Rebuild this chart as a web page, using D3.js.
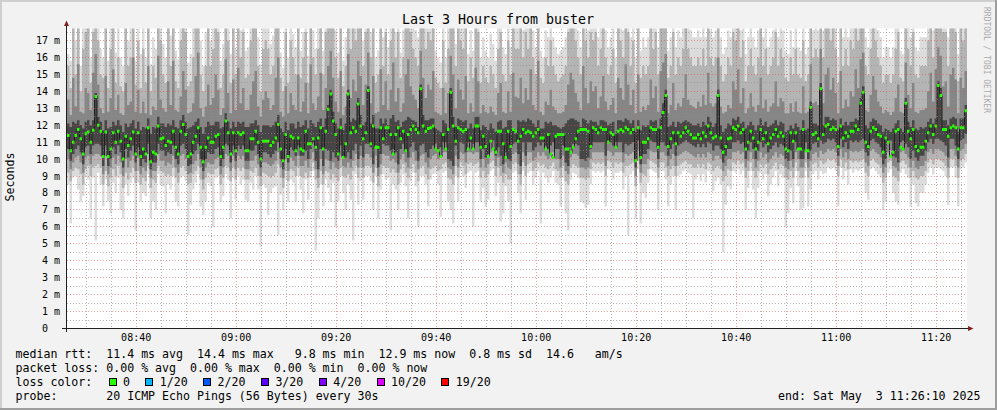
<!DOCTYPE html>
<html><head><meta charset="utf-8">
<script src="https://cdn.jsdelivr.net/npm/d3@7"></script>
<style>
html,body{margin:0;padding:0;background:#f2f2f2;}
svg{display:block;}
text{font-family:"DejaVu Sans Mono",monospace;white-space:pre;}
</style></head><body>
<svg id="c" width="997" height="410"></svg>
<script>
// ---- data (ms), one value per 30 s step, 08:26:10 .. 11:26:10 ----
const median = [
11.4,10.5,11.0,11.4,11.75,11.2,10.3,11.5,11.6,11.0,11.7,13.7,12.0,11.65,10.15,11.6,10.15,10.6,11.55,11.0,11.65,11.05,10.0,11.35,10.8,11.2,11.6,10.3,11.55,10.15,10.6,10.3,11.85,9.85,10.4,10.3,11.95,11.2,11.25,10.8,11.05,11.0,11.65,10.7,10.3,11.65,12.05,11.45,10.15,10.3,11.0,11.35,11.85,10.7,9.85,10.7,11.25,11.0,11.0,11.35,11.45,10.15,10.7,12.25,11.55,10.3,11.55,10.5,11.55,11.45,11.55,10.5,
10.5,11.2,11.2,11.65,11.0,10.0,11.05,11.05,11.05,10.8,11.0,11.25,12.05,10.6,9.9,11.45,10.15,11.35,11.25,10.5,11.25,10.6,10.5,11.65,10.9,10.9,11.2,10.7,11.25,11.85,10.6,11.65,12.95,13.85,12.25,11.45,10.3,11.85,10.1,10.9,13.85,11.55,11.85,11.65,13.25,11.95,11.2,11.55,14.05,10.9,11.95,10.7,10.7,11.85,11.2,11.85,11.85,11.45,10.3,11.45,11.85,11.2,11.65,10.5,11.45,11.75,11.95,11.75,11.55,14.15,11.95,11.65,
11.8,11.85,11.95,10.6,10.5,10.15,11.45,10.6,11.75,13.95,11.95,11.05,11.85,11.75,11.65,11.75,10.6,11.25,10.6,11.95,11.95,10.7,11.35,10.75,10.15,11.05,10.6,10.4,11.65,11.65,10.9,10.1,11.65,10.75,11.75,11.65,11.05,11.35,11.75,11.55,11.65,11.55,11.35,11.55,11.75,11.25,11.25,10.6,11.45,10.3,10.1,11.35,11.45,11.45,11.45,10.6,10.6,10.4,10.7,11.2,11.65,11.75,11.75,11.75,11.65,10.75,11.85,11.75,11.55,11.85,11.75,11.75,
11.0,11.55,11.45,10.7,11.65,11.75,11.65,11.85,11.75,11.55,11.75,9.9,11.85,10.1,11.0,11.0,11.2,11.85,11.75,11.75,10.7,11.85,12.75,13.75,10.75,11.2,11.55,10.9,11.55,11.35,11.55,11.85,11.65,11.45,11.25,11.25,11.45,11.2,11.55,11.35,11.95,11.55,11.25,11.35,13.75,11.25,10.4,10.75,11.2,11.25,11.85,11.75,11.95,11.55,11.75,10.6,11.0,11.65,11.25,10.6,11.0,11.75,11.2,11.55,10.9,11.25,11.45,11.75,11.35,11.55,11.35,10.6,
10.5,11.55,11.05,11.55,10.6,10.6,11.75,10.5,10.5,13.05,11.45,11.55,11.2,14.15,11.45,11.95,12.05,11.75,11.85,11.75,10.75,11.95,11.25,11.55,11.35,11.65,11.65,11.95,11.75,13.3,13.95,11.0,10.75,11.65,11.85,11.75,11.45,11.35,10.4,11.25,11.0,10.15,10.4,11.65,11.75,10.7,10.6,13.3,11.65,11.2,11.75,10.75,10.5,10.7,10.7,11.05,11.55,11.95,11.45,11.95,14.35,13.75,11.75,11.75,11.35,11.85,11.95,11.85,10.6,11.85,11.85,12.85];

// smoke: sorted pings of each step, as pairs of ranks (lowest/highest, 4th/17th, 7th/14th, 9th/12th)
const pingMax = [
16.2,15.8,18,17,18,15.5,18,18,18,16,18,18,18,16.5,16,18,15.8,18,18,16.3,18,16,15.5,18,17,18,18,15.8,18,16.2,
18,16,18,15.6,17.2,16.5,18,18,16.8,16,18,17.3,18,16.4,15.9,18,18,18,15.7,16.2,18,18,18,17,15.5,17.5,18,17,18,18,
18,15.8,16.8,18,18,16.2,18,16.5,18,17.6,18,16.4,16.6,18,18,18,17.2,15.6,18,18,18,16.8,17.3,18,18,16.3,15.4,18,16,18,
17.4,16.6,18,16.4,17.5,18,16.1,18,17.6,16.5,18,18,16.4,18,18,18,18,17.6,16.3,18,15.8,17.2,18,18,18,18,18,18,17,18,
18,17.5,18,16,16.4,18,17.2,18,16.6,18,18,17.5,18,16.3,17.6,18,18,18,18,17.6,17.2,18,18,18,18,18,18,16.4,16,15.7,
18,16,18,18,18,16.8,18,18,18,18,16.2,17.6,16.4,18,18,16,17.2,16.4,16,17.4,16.8,15.8,18,18,16.6,16.2,18,16.6,18,18,
18,18,17.6,18,18,18,17.6,16.6,18,16.4,16,17.6,17.2,18,17.2,16.6,16.2,16.4,16.6,17.2,18,18,18,18,17.6,16.6,18,18,17.6,18,
18,18,17.2,18,18,17.6,16.6,17.2,18,16,18,18,17.6,18,18,17.2,18,16,18,16.4,17.2,16.6,17.2,18,18,18,16.6,18,18,18,
16.4,17.2,18,16.6,17.6,17.2,18,18,18,17.6,17.2,17.2,17.6,17.2,18,17.2,18,17.6,17.2,17.6,18,17.2,16.2,16.6,17.6,17.2,18,18,18,17.6,
18,16.2,17.2,18,17.2,16.6,17.6,18,17.2,18,16.6,17.2,17.6,18,17.2,18,17.6,16.4,16.2,17.6,16.6,18,16.6,16.4,18,16.2,16.6,18,17.6,18,
17.6,18,17.6,18,18,18,18,18,16,18,17.2,18,17.2,18,18,18,18,18,18,17.2,16.6,18,18,18,17.6,17.2,16,16.6,16.6,16,
16.6,18,18,16.4,16.2,18,18,17.2,18,16.6,16.4,17.2,17.2,17.2,18,18,17.6,18,18,18,18,18,17.2,18,18,18,16.2,18,18,18];
const ping17 = [
15.5,14.2,18,15,18.5,14,16.5,17.5,18,14.5,17.5,18.5,17,15,14.8,18,14.2,16.5,18.5,14.5,16,14.3,14,18,15.5,16,18.5,14.4,17,14.2,
16.5,14.5,18.5,14,15.5,14.8,18.5,17,15,14.5,18,15.5,18.5,14.6,14.2,17,18.5,17.5,14.3,14.6,16,18,18.5,15,14,15.5,18,15.5,16.5,18,
17.5,14.2,15,18.5,17,14.5,18,15,18.5,16,17.5,14.8,15,17,18,18.5,15.5,14,16.5,17,16.5,15,15.5,18,18.5,14.8,14,17.5,14.5,17,
16,15,18,14.8,16,17.5,14.5,18.5,16,15,16.5,18,15,17.5,18.5,18.5,18,16,14.8,18.5,14.3,15.5,18.5,16.5,18,17,18.5,18,15.5,17.5,
18.5,16,18,14.5,15,18.5,15.5,17.5,15,17,18.5,16,17.5,14.8,16,18,18.5,17.5,16.5,16,15.5,18.5,18,16.5,17.5,17,18.5,14.8,14.5,14.2,
17,14.5,16.5,18.5,18,15.5,18,17,16.5,18,14.6,16,14.8,18.5,17.5,14.5,15.5,14.8,14.5,15.5,15,14.2,16.5,17.5,15,14.6,17,15,18,16.5,
16.5,18,16,17.5,16.5,18.5,16,15,18.5,14.8,14.5,16,15.5,17,15.5,15,14.6,14.8,15,15.5,17.5,18,18,17,16,15,18.5,17,16,17.5,
17,17.5,15.5,16.5,18,16,15,15.5,16.5,14.5,18,17,16,18.5,17.5,15.5,17,14.5,18,14.8,15.5,15,15.5,18,16.5,17.5,15,18,18.5,18.5,
14.8,15.5,17.5,15,16,15.5,16.5,18,16.5,16,15.5,15.5,16,15.5,16.5,15.5,18,16,15.5,16,18.5,15.5,14.6,15,16,15.5,17.5,17,18.5,16,
17,14.6,15.5,16.5,15.5,15,16,18,15.5,16.5,15,15.5,16,17.5,15.5,16.5,16,14.8,14.6,16,15,16.5,15,14.8,17,14.6,15,18.5,16,16.5,
16,18.5,16,18,18.5,17,18,16.5,14.5,18.5,15.5,16.5,15.5,17,16.5,18.5,17,18.5,18.5,15.5,15,16.5,18,17,16,15.5,14.5,15,15,14.5,
15,16.5,17.5,14.8,14.6,18.5,16.5,15.5,17.5,15,14.8,15.5,15.5,15.5,17,18,16,18.5,18.5,18.5,17.5,17.5,15.5,18,18.5,17.5,14.6,18,17,18];
const ping14 = [
13.5,12.6,14.8,13.1,15.6,12.8,12.7,14.2,13.9,12.9,15.1,16.2,14.4,13,12.7,14.9,12.8,13.6,15.3,12.9,13.8,12.7,12.6,14.5,13.2,13.4,16,12.8,14.1,12.7,
13.4,12.7,15.5,12.6,13.1,12.9,16.1,13.5,13,12.8,14.6,13.2,15.8,12.9,12.8,13.7,15.2,14.1,12.7,12.8,13.3,14.9,16.3,13,12.5,13.1,14.4,13.2,13.6,15,
14.1,12.6,13,15.9,13.9,12.7,14.7,12.9,15.4,13.3,14.2,12.9,12.9,13.8,14.6,15.2,13.1,12.5,13.5,14,13.6,12.9,13.2,14.8,16,12.8,12.5,14.3,12.7,13.9,
13.2,12.9,15,12.8,13.4,14.5,12.7,15.6,13.3,12.9,13.7,15.1,12.9,14.2,15.5,16.4,14.8,13.4,12.8,15.2,12.6,13.1,16.2,13.6,14.7,14,15.8,14.9,13.2,14.4,
16.3,13.3,14.9,12.7,12.8,15.3,13.2,14.6,12.9,14.1,15.7,13.4,14.2,12.8,13.3,15,15.9,14.3,13.8,13.5,13,16.4,14.8,13.6,14.4,14.1,15.2,12.8,12.7,12.6,
14.2,12.7,13.9,16.1,15,13,14.7,14.1,13.5,14.9,12.7,13.3,12.8,15.4,14.6,12.7,13.2,12.8,12.7,13.1,12.8,12.6,13.9,14.5,12.8,12.7,14,12.8,15.1,13.7,
13.6,14.8,13.3,14.2,13.5,15.3,13.2,12.9,15.8,12.8,12.6,13.4,13.2,14.1,13.1,12.9,12.7,12.7,12.8,13.2,14.4,15.1,14.7,13.9,13.4,12.9,15.5,14.2,13.3,14.6,
14,14.3,13,13.7,14.9,13.4,12.9,13.2,13.6,12.7,14.8,14.2,13.5,15.6,14.4,13.2,14.1,12.7,15,12.8,13.1,12.9,13.2,14.7,13.6,14.3,12.8,15.2,15.7,16.2,
12.7,13.2,14.5,12.9,13.3,13.1,13.6,15,13.5,13.2,13.1,13,13.4,13.1,13.8,13.2,15.1,13.3,13.1,13.3,16,13.1,12.7,12.8,13.2,13,14.6,14.1,15.3,13.3,
14.2,12.7,13,13.9,13.1,12.8,13.2,14.8,13,13.5,12.8,13.1,13.3,14.6,13.1,13.6,13.4,12.7,12.7,13.3,12.8,13.4,12.8,12.7,14.3,12.7,12.8,15.6,13.3,13.4,
13.2,16.5,13.3,15,15.4,14.1,14.8,13.9,12.7,15.2,13,13.5,13.1,14,13.7,15.3,14.2,15.9,16.3,12.9,12.8,13.8,14.9,14.1,13.4,13.1,12.7,12.9,12.8,12.6,
12.8,13.6,14.4,12.8,12.7,15.7,13.8,13,14.5,12.8,12.7,12.9,12.9,13,14,15.1,13.4,15.3,16.6,16.1,14.3,14.6,13.1,15,15.4,14.7,12.7,14.8,14.2,15.2];
const ping12 = [
12.1,11.9,12.2,12.1,12.3,12,11.8,12.2,12.3,12,12.3,13.9,12.5,12.2,11.7,12.3,11.8,11.9,12.2,12,12.3,12,11.6,12.1,11.9,12.1,12.3,11.8,12.2,11.7,
11.9,11.8,12.4,11.5,11.9,11.8,12.5,12.1,12.1,11.9,12.1,12,12.3,11.9,11.8,12.3,12.6,12.2,11.8,11.9,12,12.2,12.4,11.9,11.5,11.9,12.2,12,12,12.2,
12.2,11.8,11.9,12.7,12.2,11.8,12.2,11.9,12.2,12.1,12.2,11.9,11.9,12.1,12.1,12.3,12,11.6,12,12,12,11.9,12,12.2,12.6,11.8,11.6,12.2,11.7,12.1,
12.1,11.8,12.2,11.9,12,12.3,11.8,12.3,12.1,11.9,12.2,12.4,11.9,12.4,13.2,14.1,12.8,12.1,11.8,12.4,11.7,12.1,14.1,12.2,12.4,12.3,13.6,12.6,12,12.2,
14.3,12.1,12.6,11.8,11.8,12.4,12.1,12.4,12,12.4,12.6,12.2,12.3,11.9,12.2,12.3,12.5,12.4,12.3,12.2,11.9,14.4,12.6,12.3,12.3,12.4,12.4,11.8,11.7,11.6,
12.3,12.1,11.8,14.2,12.5,11.9,12.4,12.3,12.2,12.3,11.8,12.1,11.8,12.5,12.5,11.7,12,11.9,11.7,12.1,11.8,11.6,12.2,12.3,11.8,11.9,12.3,12.3,11.7,11.5,
12.3,12.2,12.3,12.2,12.4,12.3,12.1,11.9,12.3,11.8,11.8,12.2,12.1,12.2,12,12,11.9,11.8,11.9,12.1,12.3,12.4,12.4,12.3,12.2,11.9,12.4,12.3,12.1,12.3,
12.2,12.2,12,12.3,12.3,12.2,12,12.1,12.2,11.5,12.3,12.3,12.2,12.4,12.3,12.1,12.3,11.6,12.3,11.7,12,11.9,12,12.3,12.2,12.3,11.8,12.4,13.3,14.1,
11.9,12,12.2,11.9,12.2,12.1,12.2,12.3,12.2,12.1,12,12,12.1,11.9,12.2,12,12.5,12.2,11.9,12.1,14.1,12,11.6,11.8,12.1,12,12.4,12.3,12.5,12.1,
12.2,11.8,12,12.2,12,11.7,12,12.4,12,12.2,11.9,12,12.1,12.3,12,12.2,12.1,11.6,11.7,12,11.8,12.1,11.9,11.7,12.3,11.7,11.8,13.4,12.1,12.1,
12,14.5,12,12.5,12.5,12.3,12.4,12.3,11.7,12.4,12,12.2,12,12.2,12.2,12.4,12.3,13.6,14.3,12,11.8,12.2,12.4,12.3,12.1,12,11.6,11.8,11.7,11.6,
11.8,12.1,12.3,11.8,11.6,13.6,12.2,11.9,12.3,11.8,11.7,11.9,11.8,11.9,12.2,12.4,12.1,12.4,14.6,14.2,12.3,12.3,12,12.4,12.5,12.4,11.6,12.4,12.4,13.2];
const ping9 = [
10.6,9.9,10.3,10.6,10.8,10.4,9.7,10.7,10.8,10.3,10.8,10.9,10.9,10.8,9.6,10.8,9.6,10,10.7,10.3,10.8,10.4,9.5,10.6,10.1,10.5,10.8,9.8,10.7,9.6,
10,9.8,10.9,9.4,9.8,9.8,10.9,10.5,10.5,10.2,10.4,10.3,10.8,10,9.7,10.8,10.9,10.6,9.6,9.7,10.3,10.5,10.9,10,9.3,10,10.4,10.3,10.3,10.6,
10.7,9.6,10,10.9,10.8,9.8,10.8,9.9,10.8,10.6,10.8,9.9,9.9,10.5,10.5,10.8,10.3,9.5,10.4,10.4,10.3,10.1,10.3,10.5,11,10,9.4,10.6,9.8,10.7,
10.5,10.2,10.8,10.2,10.2,10.5,10,10.6,11,9.9,9.4,10.6,9.6,10.6,10.5,9.9,10.4,10.1,9.9,10.8,10.2,10.1,10.4,10,10.5,10.9,10,10.8,10.1,10.9,
10.9,10.7,9.7,10.8,9.5,10.3,10.9,10.8,10.8,10.5,10.6,10.4,9.7,10.6,10.9,10.4,10.1,10.7,11,10.5,9.9,10.8,10.9,10.4,10.1,10.6,10.8,10.9,10.6,10.7,
11,11,10,9.9,9.6,10.8,10,11,10.9,10.4,11,11,10.9,11,11,10,10.6,10.1,10.3,11,11.1,10.2,10.7,10.2,9.7,10.4,10,9.9,10.9,11,
10.3,9.6,11,10.2,11,11,10.5,10.7,11,10.8,11,10.8,10.6,10.8,11,10.6,10.6,10,10.8,9.8,9.6,10.7,10.9,10.9,10.8,10,10,9.9,10.1,10.6,
11,11,11,11,11,10.2,11.1,11,10.8,11,11,11,10.4,10.9,10.8,10.9,11,9.5,11.1,9.7,10.3,10.3,10.6,11.1,11,11,10,11,11,10.8,
10.2,10.6,10.9,10.2,10.8,10.9,11,11.1,11,10.9,10.8,10.7,10.9,10.7,10.9,10.7,11,10.9,10.5,10.8,10.8,10.6,9.8,10.2,10.6,10.6,11,11,11.1,10.9,
11,10,10.5,11,10.6,10,10.5,11,10.7,10.9,10.4,10.6,10.8,11,10.7,10.9,10.8,10,9.9,10.5,10,11,10.6,10,10,11,10,10.5,10.9,11,
10.7,11.1,10.9,11,11.2,11.1,11.2,11,10.2,11.2,10.7,11,10.6,11.1,11,11.1,11,11.1,11.2,10.4,10.2,11.1,11.2,11,10.9,10.7,9.7,10,11,11.1,
10.2,10.1,9.8,11,11.1,10.9,10.7,10,10.5,10.1,9.9,10.2,10.2,10.5,11,11.2,10.9,11.2,11.2,11.1,11,10.8,10.1,11.2,11.2,10.8,10,11.1,11.2,11.5];
const ping7 = [
10,9.4,9.8,10.1,10.2,9.8,9.2,10.1,10.2,9.7,10.2,10.3,10.3,10.2,9.1,10.2,9.1,9.5,10.1,9.7,10.2,9.8,9,10,9.5,9.9,10.2,9.3,10.1,9.1,
9.5,9.3,10.3,8.9,9.3,9.3,10.3,9.9,9.9,9.6,9.8,9.7,10.2,9.5,9.2,10.2,10.3,10,9.1,9.2,9.7,9.9,10.3,9.5,8.8,9.5,9.8,9.7,9.7,10,
10.1,9.1,9.5,10.3,10.2,9.3,10.2,9.4,10.2,10,10.2,9.4,9.4,9.9,9.9,10.2,9.7,9,9.8,9.8,9.7,9.6,9.7,9.9,10.4,9.5,8.9,10,9.3,10.1,
9.9,9.6,10.2,9.6,9.6,9.9,9.5,10,10.4,9.4,8.9,10,9.1,10,9.9,9.4,9.8,9.5,9.4,10.2,9.6,9.5,9.8,9.5,9.9,10.3,9.5,10.2,9.5,10.3,
10.3,10.1,9.2,10.2,9,9.7,10.3,10.2,10.2,9.9,10,9.8,9.2,10,10.3,9.8,9.5,10.1,10.4,9.9,9.4,10.2,10.3,9.8,9.5,10,10.2,10.3,10,10.1,
10.4,10.4,9.5,9.4,9.1,10.2,9.5,10.4,10.3,9.8,10.4,10.4,10.3,10.4,10.4,9.5,10,9.5,9.7,10.4,10.5,9.6,10.1,9.6,9.2,9.8,9.5,9.4,10.3,10.4,
9.7,9.1,10.4,9.6,10.4,10.4,9.9,10.1,10.4,10.2,10.4,10.2,10,10.2,10.4,10,10,9.5,10.2,9.3,9.1,10.1,10.3,10.3,10.2,9.5,9.5,9.4,9.5,10,
10.4,10.4,10.4,10.4,10.4,9.6,10.5,10.4,10.2,10.4,10.4,10.4,9.8,10.3,10.2,10.3,10.4,9,10.5,9.2,9.7,9.7,10,10.5,10.4,10.4,9.5,10.4,10.4,10.2,
9.6,10,10.3,9.6,10.2,10.3,10.4,10.5,10.4,10.3,10.2,10.1,10.3,10.1,10.3,10.1,10.4,10.3,9.9,10.2,10.2,10,9.3,9.6,10,10,10.4,10.4,10.5,10.3,
10.4,9.5,9.9,10.4,10,9.5,9.9,10.4,10.1,10.3,9.8,10,10.2,10.4,10.1,10.3,10.2,9.5,9.4,9.9,9.5,10.4,10,9.5,9.5,10.4,9.5,9.9,10.3,10.4,
10.1,10.5,10.3,10.4,10.6,10.5,10.6,10.4,9.6,10.6,10.1,10.4,10,10.5,10.4,10.5,10.4,10.5,10.6,9.8,9.6,10.5,10.6,10.4,10.3,10.1,9.2,9.5,10.4,10.5,
9.6,9.5,9.3,10.4,10.5,10.3,10.1,9.5,9.9,9.5,9.4,9.6,9.6,9.9,10.4,10.6,10.3,10.6,10.6,10.5,10.4,10.2,9.5,10.6,10.6,10.2,9.5,10.5,10.6,10.9];
const ping4 = [
9.2,8.7,9.3,9.5,9.4,9.1,8.5,9.4,9.6,9,9.5,9.6,9.7,9.5,8.5,9.3,8.4,8.9,9.4,9,9.6,9.1,8.3,9.2,8.8,9.2,9.5,8.6,9.3,8.5,
8.9,8.7,9.6,8.3,8.8,8.6,9.6,9.3,9.2,9,9.1,9,9.5,8.9,8.6,9.5,9.6,9.3,8.5,8.6,9.1,9.3,9.6,8.8,8.2,8.9,9.2,9.1,9.1,9.4,
9.5,8.5,8.9,9.6,9.5,8.7,9.5,8.8,9.5,9.3,9.5,8.8,8.8,9.3,9.2,9.5,9,8.4,9.2,9.1,9,8.9,9,9.2,9.7,8.9,8.3,9.3,8.7,9.4,
9.3,9,9.5,9,8.9,9.2,8.9,9.3,9.8,8.8,8.3,9.3,8.5,9.3,9.2,8.8,9.1,8.9,8.7,9.5,9,8.9,9.1,8.8,9.3,9.6,8.9,9.5,8.9,9.6,
9.6,9.5,8.6,9.5,8.4,9.1,9.6,9.5,9.5,9.2,9.4,9.2,8.5,9.4,9.7,9.2,8.9,9.4,9.7,9.2,8.7,9.5,9.6,9.1,8.8,9.4,9.5,9.6,9.3,9.4,
9.7,9.8,8.9,8.8,8.5,9.6,8.9,9.8,9.6,9.1,9.7,9.8,9.6,9.7,9.8,8.9,9.3,8.9,9.1,9.8,9.9,9,9.5,9,8.6,9.1,8.8,8.8,9.7,9.8,
9.1,8.5,9.8,9,9.7,9.8,9.3,9.5,9.8,9.6,9.7,9.5,9.4,9.6,9.8,9.4,9.3,8.9,9.6,8.7,8.5,9.5,9.7,9.6,9.5,8.9,8.9,8.8,8.9,9.4,
9.8,9.7,9.8,9.7,9.8,9,9.9,9.8,9.5,9.8,9.7,9.8,9.2,9.6,9.6,9.7,9.8,8.4,9.9,8.6,9.1,9,9.4,9.9,9.8,9.7,8.9,9.8,9.8,9.5,
9,9.4,9.6,9,9.6,9.7,9.8,9.9,9.7,9.7,9.5,9.5,9.7,9.5,9.7,9.4,9.8,9.7,9.3,9.5,9.6,9.4,8.7,9,9.4,9.3,9.8,9.7,9.9,9.7,
9.8,8.9,9.3,9.8,9.3,8.9,9.3,9.7,9.5,9.7,9.1,9.4,9.6,9.8,9.4,9.7,9.6,8.9,8.8,9.3,8.9,9.8,9.3,8.9,8.9,9.8,8.9,9.3,9.7,9.8,
9.5,9.9,9.7,9.8,10,9.9,10,9.8,9,10,9.5,9.8,9.4,9.9,9.8,9.9,9.8,9.9,10,9.2,9,9.9,10,9.8,9.7,9.5,8.6,8.9,9.8,9.9,
9,8.9,8.7,9.8,9.9,9.7,9.5,8.9,9.3,8.9,8.8,9,9,9.3,9.8,10,9.7,10,10,9.9,9.8,9.6,8.9,10,10,9.6,8.9,9.9,10,10.3];
const pingMin = [
8.5,6.2,8.9,9,8.2,7.5,7.8,9,8.8,6.5,8.9,5.2,9.2,8.5,7.2,8.8,7.5,6.8,8.6,8,8.9,7,6.5,8.5,7.8,8.6,8.9,5.8,8.6,7.5,
8,7.8,9.1,6.5,7.5,7,9.1,8.5,8.4,6.8,8.5,8.2,9,7.5,7.2,8.9,9,8.7,5.5,7.3,8.2,8.6,9.1,7.2,6.7,7.5,8.6,8.4,6,8.9,
9,7.5,7.8,9.1,8.8,6.5,8.9,7.6,9,8.5,8.8,7.6,7.5,8.6,8.2,9,8.2,4.8,8.5,8.3,6.7,8,8.3,8.4,5.5,7.9,7,8.8,7.5,8.8,
8.6,7.5,9,8.2,6.8,8.8,7.6,8.9,9.3,4.6,6.5,8.5,7.2,8.8,8.3,7.5,8.6,6,7.5,9,8,7,8.5,7.6,5.2,9.1,7.3,8.7,7.6,9,
9,8.7,7,9,6.5,8.2,9.1,8.8,8.9,5.8,8.5,8.2,7,8.6,9.1,8.4,6.5,8.7,9.2,8.4,6,9,9,8.5,7.2,8.8,9.1,9.2,8.5,6.6,
9.2,9.3,7.5,7,6.2,9,7.5,9.3,9,8.3,9.2,9.3,6,9.2,9.3,7.5,8.3,7.2,7.6,9.3,9.4,7.8,8.6,6.3,6.8,8.4,7.5,5,9.2,9.3,
8,6.8,9.3,7.6,9.2,9.3,8.5,8.9,9.3,6.2,9.2,8.9,8.6,8.9,9.3,8.6,8.5,7.2,8.9,6.8,5.8,8.8,9.2,9.1,8.9,7.5,7.4,7.1,7.3,8.5,
9.3,9.2,9.3,9.2,9.3,7.2,9.4,9.3,8.8,9.2,9.2,9.3,8.2,9,5.5,9.1,9.3,6.5,9.4,6.2,8,7.7,8.6,9.4,9.3,9.2,7,9.3,9.3,8.8,
7.2,8.5,9,7,9,9.1,9.3,9.4,9.2,9.1,6.5,8.8,9.1,8.7,9.1,8.6,9.3,9.1,8.1,8.7,8.9,8.5,4.5,7.3,8.4,8.2,9.3,9.2,9.4,9.1,
9.3,7,8.3,9.3,8.2,6.5,8.3,9.2,8.8,9.1,7.8,8.5,8.9,9.3,8.4,9.1,8.9,6,6.8,8.3,7.4,9.3,8.4,7,7.1,9.3,7.2,8.2,9.1,9.3,
8.8,9.3,9.1,9.2,9.5,9.4,9.5,9.3,7.2,9.5,8.8,9.3,8.5,9.4,9.2,9.4,9.3,9.4,9.5,8,7.6,9.4,9.5,9.3,9.1,8.9,7,7.5,9.2,9.4,
8,7.5,7.3,9.2,9.4,9.1,8.9,7.2,8.5,7.4,7.2,8,8,8.5,9.2,9.5,9.1,9.5,9.5,9.4,9.3,9,7.3,9.5,9.5,8.9,7.2,9.4,9.5,9.8];

const yTickValues = [1,2,3,4,5,6,7,8,9,10,11,12,13,14,15,16,17];
const titleText = "Last 3 Hours from buster";
const yLabelText = "Seconds";
const legendRows = [
  "median rtt:  11.4 ms avg  14.4 ms max   9.8 ms min  12.9 ms now  0.8 ms sd  14.6   am/s",
  "packet loss: 0.00 % avg  0.00 % max  0.00 % min  0.00 % now"
];
const lossLabels = ["0","1/20","2/20","3/20","4/20","10/20","19/20"];
const lossColors = ["#26ff00","#00b8ff","#0059ff","#5e00ff","#7e00ff","#dd00ff","#ff0000"];
const probeText = "probe:       20 ICMP Echo Pings (56 Bytes) every 30s";
const endText = "end: Sat May  3 11:26:10 2025";
const watermark = "RRDTOOL / TOBI OETIKER";

// ---- drawing ----
const W = 997, H = 410;
const svg = d3.select("#c");
svg.append("rect").attr("width", W).attr("height", H).attr("fill", "#f2f2f2");
svg.append("rect").attr("x",0).attr("y",0).attr("width",W).attr("height",2).attr("fill","#cfcfcf");
svg.append("rect").attr("x",0).attr("y",0).attr("width",2).attr("height",H).attr("fill","#cfcfcf");
svg.append("rect").attr("x",0).attr("y",H-2).attr("width",W).attr("height",2).attr("fill","#9e9e9e");
svg.append("rect").attr("x",W-2).attr("y",0).attr("width",2).attr("height",H).attr("fill","#9e9e9e");

const n = median.length;
const stepMs = 30 * 1000;
const t0 = new Date(2025, 4, 3, 8, 26, 10);
const tEnd = new Date(t0.getTime() + n * stepMs);
const yMax = 17.71;
const x = d3.scaleTime().domain([t0, tEnd]).range([67, 967]);
const y = d3.scaleLinear().domain([0, yMax]).range([328.5, 28.5]);

svg.append("rect").attr("x",67).attr("y",28.5).attr("width",900).attr("height",300).attr("fill","#ffffff");
svg.append("clipPath").attr("id","plot").append("rect").attr("x",67).attr("y",28.5).attr("width",900).attr("height",300);
const g = svg.append("g").attr("clip-path","url(#plot)");

const pts = d3.range(n + 1).map(i => ({ t: new Date(t0.getTime() + i * stepMs), k: Math.min(i, n - 1) }));
const clampV = v => Math.max(0, Math.min(yMax + 0.2, v));
function smoke(lo, hi) {
  return d3.area().curve(d3.curveStepAfter)
    .defined(p => lo[p.k] != null && hi[p.k] != null)
    .x(p => x(p.t)).y0(p => y(clampV(lo[p.k]))).y1(p => y(clampV(hi[p.k])));
}
const layers = [
  [pingMin, pingMax, "#dcdcdc"],
  [ping4, ping17, "#b4b4b4"],
  [ping7, ping14, "#868686"],
  [ping9, ping12, "#464646"]
];
layers.forEach(([lo, hi, c]) => {
  g.append("path").datum(pts).attr("d", smoke(lo, hi)).attr("fill", c);
});

g.append("path").datum(pts)
  .attr("d", d3.line().curve(d3.curveStepAfter).x(p => x(p.t)).y(p => y(median[p.k])))
  .attr("fill","none").attr("stroke","#202020").attr("stroke-width",1);
g.append("path").datum(pts)
  .attr("d", d3.area().curve(d3.curveStepAfter).x(p => x(p.t))
    .y0(p => y(median[p.k]) + 1.5).y1(p => y(median[p.k]) - 1.5))
  .attr("fill", lossColors[0]);

// grid
const grid = svg.append("g").attr("shape-rendering","crispEdges");
const px = v => Math.round(v - 0.5) + 0.5;
const minorT = x.ticks(d3.timeMinute.every(5));
const majorT = x.ticks(d3.timeMinute.every(20));
const isMajor = t => majorT.some(m => +m === +t);
const minorCol = "rgba(143,143,143,0.65)", majorCol = "rgba(222,79,79,0.55)";
minorT.filter(t => !isMajor(t)).forEach(t => {
  grid.append("line").attr("x1",px(x(t))).attr("x2",px(x(t))).attr("y1",28.5).attr("y2",328)
    .attr("stroke",minorCol).attr("stroke-dasharray","1,2");
});
d3.range(1, 36).map(d => d / 2).filter(v => v % 1 !== 0 && v < yMax).forEach(v => {
  grid.append("line").attr("x1",67).attr("x2",967).attr("y1",px(y(v))).attr("y2",px(y(v)))
    .attr("stroke",minorCol).attr("stroke-dasharray","1,2");
});
majorT.forEach(t => {
  grid.append("line").attr("x1",px(x(t))).attr("x2",px(x(t))).attr("y1",28.5).attr("y2",328)
    .attr("stroke",majorCol).attr("stroke-dasharray","1,2");
});
yTickValues.forEach(v => {
  grid.append("line").attr("x1",67).attr("x2",967).attr("y1",px(y(v))).attr("y2",px(y(v)))
    .attr("stroke",majorCol).attr("stroke-dasharray","1,2");
});

// axes
const ax = svg.append("g").attr("shape-rendering","crispEdges");
ax.append("line").attr("x1",62).attr("x2",969).attr("y1",328.5).attr("y2",328.5).attr("stroke","#1f1f1f");
ax.append("line").attr("x1",66.5).attr("x2",66.5).attr("y1",332).attr("y2",24).attr("stroke","#1f1f1f");
svg.append("path").attr("d","M64,26 L69,26 L66.5,20.5 Z").attr("fill","#801f1f");
svg.append("path").attr("d","M968,326 L968,331 L973.5,328.5 Z").attr("fill","#801f1f");

const yl = svg.append("g").attr("font-size","10px").attr("fill","#000");
yl.append("text").attr("x",60).attr("y",y(0)).attr("dy","0.35em").attr("text-anchor","end").text("0  ");
yTickValues.forEach(v => {
  yl.append("text").attr("x",60).attr("y",y(v)).attr("dy","0.35em").attr("text-anchor","end").text(v + " m");
});
const fmt = d3.timeFormat("%H:%M");
majorT.forEach(t => {
  yl.append("text").attr("x",x(t)).attr("y",341).attr("text-anchor","middle").text(fmt(t));
});

svg.append("text").attr("x",498).attr("y",23.5).attr("text-anchor","middle").attr("font-size","13.3px").text(titleText);
svg.append("text").attr("transform","translate(10,177) rotate(-90)").attr("text-anchor","middle")
  .attr("dy","0.35em").attr("font-size","11.6px").text(yLabelText);
svg.append("text").attr("transform","translate(987,60) rotate(90)").attr("text-anchor","middle")
  .attr("dy","0.35em").attr("font-size","8px").attr("fill","#aaaaaa").text(watermark);

const lg = svg.append("g").attr("font-size","11.6px").attr("fill","#000");
const cw = 7.0;
legendRows.forEach((s, i) => lg.append("text").attr("x",15.5).attr("y",358 + i * 14).text(s));
lg.append("text").attr("x",15.5).attr("y",386).text("loss color:");
let bx = 108.5;
lossLabels.forEach((lab, i) => {
  lg.append("rect").attr("x",bx + 0.5).attr("y",378.5).attr("width",7).attr("height",7)
    .attr("fill",lossColors[i]).attr("stroke","#000").attr("stroke-width",1).attr("shape-rendering","crispEdges");
  lg.append("text").attr("x",bx + 14.5).attr("y",386).text(lab);
  bx = bx + 14.5 + lab.length * cw + 15.3;
});
lg.append("text").attr("x",15.5).attr("y",400).text(probeText);
lg.append("text").attr("x",980.5).attr("y",400).attr("text-anchor","end").text(endText);
</script>
</body></html>
